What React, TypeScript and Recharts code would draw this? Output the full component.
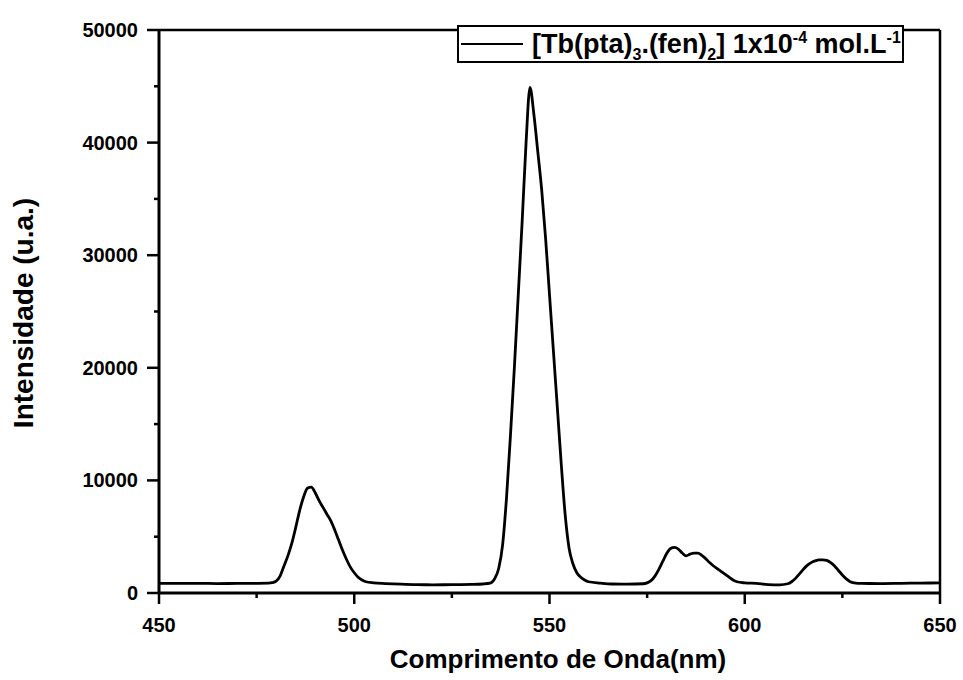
import { Legend, Line, LineChart, ReferenceLine, XAxis, YAxis } from "recharts";

// emission spectrum, 1 nm steps around the bands, coarser on the flat baseline
const wavelength = [
  450, 455, 460, 465, 470, 475, 478, 479, 480, 481, 482, 483, 484, 485, 486, 487,
  488, 489, 490, 491, 492, 493, 494, 495, 496, 497, 498, 499, 500, 501, 502, 503,
  505, 508, 512, 516, 520, 525, 530, 533, 535, 536, 537, 538, 539, 540, 541, 542,
  543, 544, 545, 546, 547, 548, 549, 550, 551, 552, 553, 554, 555, 556, 557, 558,
  559, 560, 563, 566, 570, 574, 575, 576, 577, 578, 579, 580, 581, 582, 583, 584,
  585, 586, 587, 588, 589, 590, 591, 592, 593, 594, 595, 596, 597, 598, 600, 603,
  606, 609, 611, 612, 613, 614, 615, 616, 617, 618, 619, 620, 621, 622, 623, 624,
  625, 626, 627, 628, 630, 635, 640, 645, 650,
];
const intensity = [
  860, 850, 860, 840, 850, 860, 880, 920, 1050, 1500, 2400, 3300, 4400, 5800, 7300, 8500,
  9300, 9400, 8900, 8200, 7600, 7000, 6400, 5600, 4700, 3800, 3000, 2300, 1800, 1400, 1150, 1000,
  900, 840, 780, 740, 730, 740, 760, 800, 900, 1300, 2200, 4300, 8500, 14000, 20000, 26500,
  33000, 40000, 44900, 42500, 39200, 35800, 31500, 26500, 21500, 16500, 11500, 7000, 4000, 2600, 1800, 1400,
  1150, 1000, 880, 800, 790, 820, 900, 1100, 1500, 2100, 2800, 3500, 3950, 4050, 3900, 3550,
  3300, 3450, 3550, 3550, 3350, 3050, 2700, 2400, 2150, 1900, 1650, 1400, 1150, 1000, 900, 850,
  750, 730, 820, 1000, 1300, 1700, 2100, 2450, 2700, 2850, 2950, 2950, 2900, 2700, 2400, 2000,
  1600, 1250, 1000, 900, 850, 840, 860, 880, 900,
];

const xTicks = [450, 475, 500, 525, 550, 575, 600, 625, 650];
const yTicks = [0, 5000, 10000, 15000, 20000, 25000, 30000, 35000, 40000, 45000, 50000];

const data = wavelength.map((nm, i) => ({ nm, counts: intensity[i] }));

const FONT = '"Liberation Sans", Arial, sans-serif';

function XTick({ x, y, payload }: any) {
  const major = payload.value % 50 === 0;
  return (
    <g>
      <line x1={x} x2={x} y1={y} y2={y + (major ? 11 : 5)} stroke="#000" strokeWidth={2.5} />
      {major && (
        <text x={x} y={y + 39} textAnchor="middle" fontSize={20} fontWeight="bold" fontFamily={FONT} fill="#000">
          {payload.value}
        </text>
      )}
    </g>
  );
}

function YTick({ x, y, payload }: any) {
  const major = payload.value % 10000 === 0;
  return (
    <g>
      <line x1={x - (major ? 12 : 5)} x2={x} y1={y} y2={y} stroke="#000" strokeWidth={2.5} />
      {major && (
        <text x={x - 21} y={y + 7} textAnchor="end" fontSize={20} fontWeight="bold" fontFamily={FONT} fill="#000">
          {payload.value}
        </text>
      )}
    </g>
  );
}

function SpectrumKey() {
  const small = { fontSize: 16, position: "relative" as const };
  return (
    <div
      style={{
        boxSizing: "border-box",
        width: 447,
        height: 38,
        border: "2px solid #000",
        background: "#fff",
        display: "flex",
        alignItems: "center",
        fontFamily: FONT,
        fontWeight: "bold",
        fontSize: 27,
        color: "#000",
        whiteSpace: "nowrap",
      }}
    >
      <span style={{ display: "inline-block", width: 62, borderTop: "2.5px solid #000", marginLeft: 2, marginRight: 9 }} />
      <span>
        [Tb(pta)<span style={{ ...small, top: 7 }}>3</span>.(fen)<span style={{ ...small, top: 7 }}>2</span>] 1x10
        <span style={{ ...small, top: -10 }}>-4</span> mol.L<span style={{ ...small, top: -10 }}>-1</span>
      </span>
    </div>
  );
}

export default function App() {
  return (
    <div style={{ position: "absolute", left: 0, top: 0, background: "#fff" }}>
      <LineChart width={963} height={680} data={data} margin={{ top: 30, right: 23, bottom: 0, left: 0 }}>
        <XAxis
          dataKey="nm"
          type="number"
          domain={[450, 650]}
          ticks={xTicks}
          interval={0}
          height={87}
          tickSize={0}
          tickMargin={0}
          tickLine={false}
          tick={<XTick />}
          axisLine={{ stroke: "#000", strokeWidth: 3 }}
          label={{
            content: () => (
              <text x={558} y={668} textAnchor="middle" fontSize={26} fontWeight="bold" fontFamily={FONT} fill="#000">
                Comprimento de Onda(nm)
              </text>
            ),
          }}
        />
        <YAxis
          type="number"
          domain={[0, 50000]}
          ticks={yTicks}
          interval={0}
          width={159}
          tickSize={0}
          tickMargin={0}
          tickLine={false}
          tick={<YTick />}
          axisLine={{ stroke: "#000", strokeWidth: 3 }}
          label={{
            content: () => (
              <text
                x={33}
                y={313}
                transform="rotate(-90, 33, 313)"
                textAnchor="middle"
                fontSize={28}
                fontWeight="bold"
                fontFamily={FONT}
                fill="#000"
              >
                Intensidade (u.a.)
              </text>
            ),
          }}
        />
        <ReferenceLine y={50000} stroke="#000" strokeWidth={2.5} />
        <ReferenceLine x={650} stroke="#000" strokeWidth={2.5} />
        <Legend
          layout="vertical"
          align="center"
          verticalAlign="middle"
          content={() => <SpectrumKey />}
          wrapperStyle={{ left: 457, top: 25, width: 447, height: 38 }}
        />
        <Line
          type="monotone"
          dataKey="counts"
          stroke="#000"
          strokeWidth={2.8}
          dot={false}
          activeDot={false}
          isAnimationActive={false}
        />
      </LineChart>
    </div>
  );
}
